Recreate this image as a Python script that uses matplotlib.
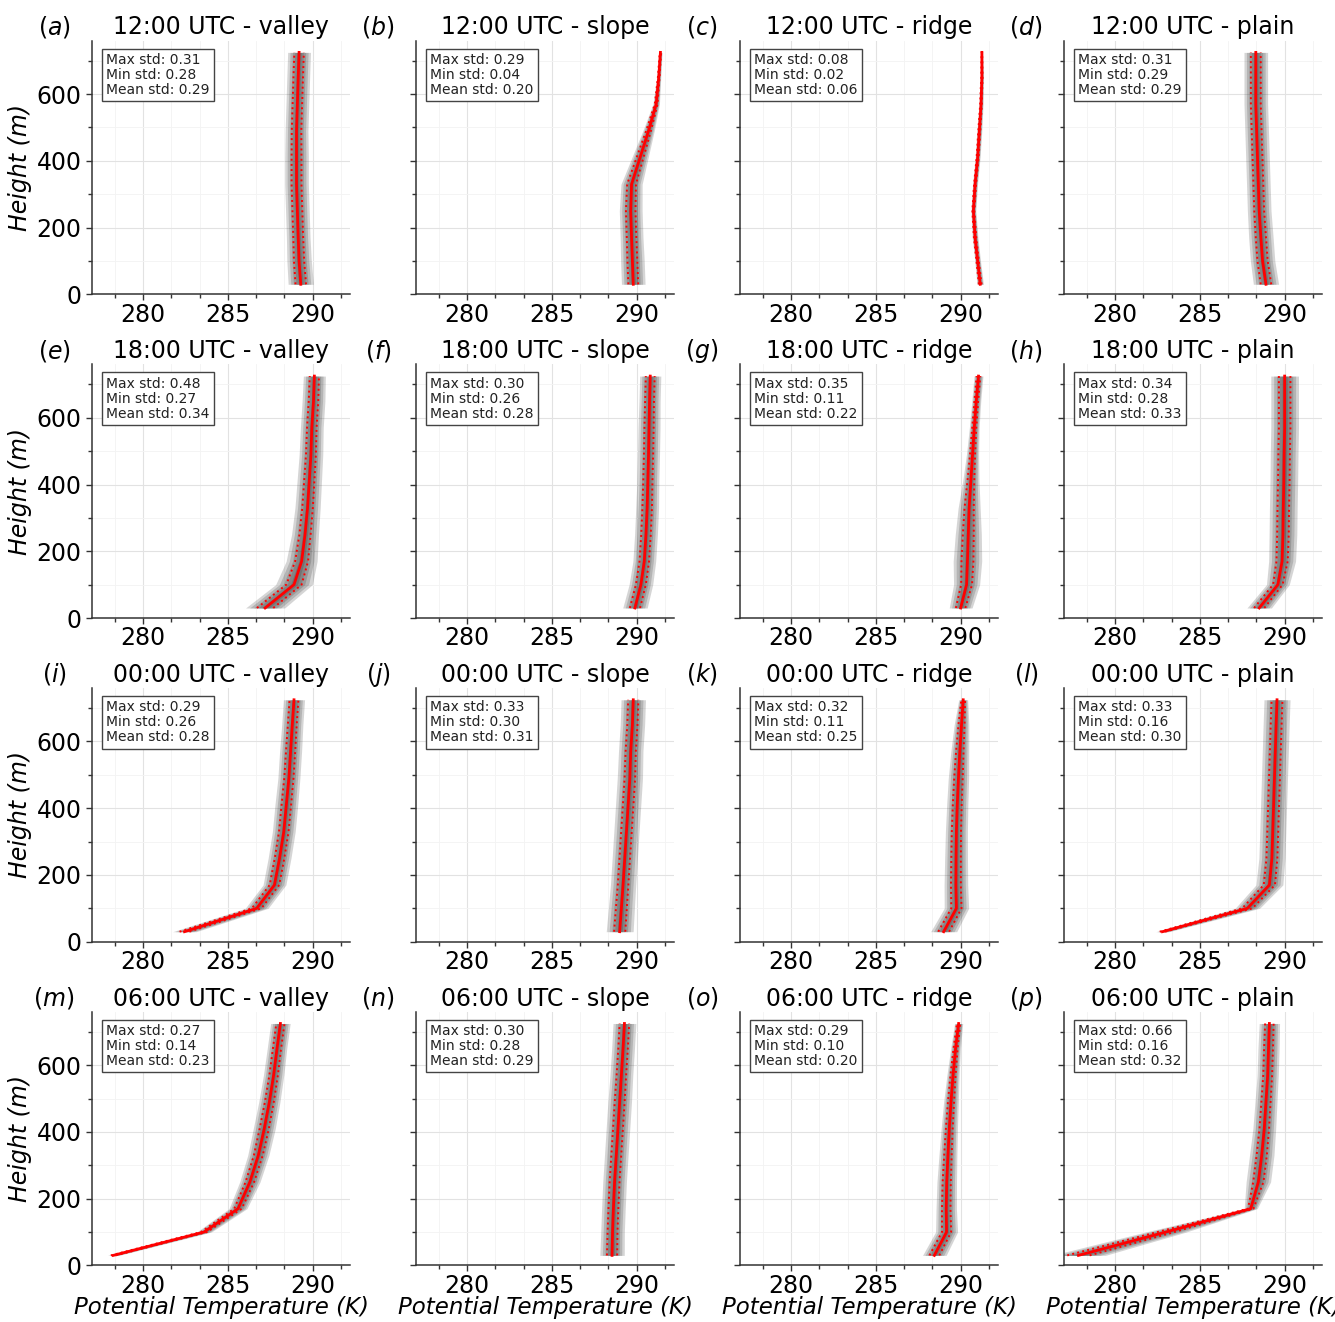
import matplotlib
matplotlib.use('Agg')
import matplotlib.pyplot as plt
from matplotlib.ticker import MultipleLocator
from matplotlib.transforms import offset_copy
import numpy as np

# ---------------- data ----------------
heights = [30, 100, 170, 250, 330, 410, 490, 570, 650, 725]
times = ['12:00 UTC', '18:00 UTC', '00:00 UTC', '06:00 UTC']
sites = ['valley', 'slope', 'ridge', 'plain']
letters = list('abcdefghijklmnop')

# ensemble-mean potential temperature (K) per site, one list per time
theta_12 = [
    [289.3, 289.2, 289.15, 289.1, 289.05, 289.05, 289.05, 289.1, 289.15, 289.2],
    [289.8, 289.75, 289.7, 289.65, 289.7, 290.2, 290.7, 291.15, 291.3, 291.4],
    [291.15, 291.0, 290.85, 290.75, 290.85, 291.0, 291.1, 291.2, 291.25, 291.25],
    [288.9, 288.7, 288.6, 288.5, 288.45, 288.4, 288.35, 288.3, 288.3, 288.3],
]
theta_18 = [
    [287.2, 288.9, 289.35, 289.55, 289.7, 289.8, 289.9, 289.95, 290.05, 290.1],
    [289.9, 290.25, 290.45, 290.55, 290.62, 290.66, 290.7, 290.73, 290.76, 290.8],
    [290.0, 290.35, 290.4, 290.45, 290.5, 290.6, 290.7, 290.8, 290.92, 291.05],
    [288.5, 289.6, 289.85, 289.9, 289.92, 289.95, 289.97, 290.0, 290.0, 290.0],
]
theta_00 = [
    [282.45, 286.7, 287.75, 288.05, 288.3, 288.45, 288.6, 288.7, 288.8, 288.9],
    [289.0, 289.1, 289.2, 289.3, 289.4, 289.5, 289.6, 289.65, 289.75, 289.8],
    [289.0, 289.75, 289.72, 289.73, 289.75, 289.8, 289.87, 289.95, 290.05, 290.15],
    [282.8, 287.8, 289.1, 289.25, 289.3, 289.35, 289.4, 289.45, 289.5, 289.55],
]
theta_06 = [
    [278.25, 283.6, 285.6, 286.3, 286.8, 287.15, 287.45, 287.7, 287.9, 288.1],
    [288.55, 288.58, 288.63, 288.7, 288.8, 288.9, 289.0, 289.1, 289.2, 289.28],
    [288.45, 289.17, 289.15, 289.18, 289.25, 289.33, 289.43, 289.55, 289.7, 289.88],
    [277.85, 283.0, 288.0, 288.45, 288.65, 288.8, 288.9, 289.0, 289.05, 289.1],
]

# ensemble standard deviation (K) per level
std_12 = [
    [0.31, 0.30, 0.29, 0.29, 0.29, 0.29, 0.28, 0.28, 0.28, 0.28],
    [0.29, 0.29, 0.28, 0.28, 0.26, 0.20, 0.14, 0.08, 0.05, 0.04],
    [0.08, 0.07, 0.07, 0.06, 0.06, 0.06, 0.06, 0.05, 0.04, 0.02],
    [0.31, 0.30, 0.30, 0.29, 0.29, 0.29, 0.29, 0.29, 0.29, 0.29],
]
std_18 = [
    [0.48, 0.45, 0.38, 0.33, 0.31, 0.30, 0.29, 0.28, 0.28, 0.27],
    [0.30, 0.29, 0.28, 0.28, 0.28, 0.27, 0.27, 0.27, 0.26, 0.26],
    [0.28, 0.32, 0.35, 0.32, 0.27, 0.20, 0.15, 0.12, 0.11, 0.11],
    [0.30, 0.28, 0.33, 0.34, 0.34, 0.34, 0.34, 0.34, 0.34, 0.34],
]
std_00 = [
    [0.29, 0.28, 0.28, 0.28, 0.28, 0.28, 0.27, 0.27, 0.26, 0.26],
    [0.33, 0.32, 0.31, 0.31, 0.31, 0.31, 0.31, 0.30, 0.30, 0.30],
    [0.32, 0.30, 0.29, 0.28, 0.27, 0.26, 0.25, 0.22, 0.18, 0.11],
    [0.16, 0.30, 0.33, 0.32, 0.32, 0.32, 0.32, 0.32, 0.32, 0.32],
]
std_06 = [
    [0.14, 0.18, 0.22, 0.25, 0.26, 0.27, 0.26, 0.25, 0.24, 0.24],
    [0.30, 0.29, 0.29, 0.29, 0.29, 0.29, 0.29, 0.28, 0.28, 0.28],
    [0.29, 0.27, 0.25, 0.24, 0.22, 0.20, 0.18, 0.15, 0.12, 0.10],
    [0.66, 0.50, 0.16, 0.30, 0.30, 0.28, 0.27, 0.26, 0.26, 0.25],
]

# statistics printed in the boxes
max_std = [[0.31, 0.29, 0.08, 0.31], [0.48, 0.30, 0.35, 0.34],
           [0.29, 0.33, 0.32, 0.33], [0.27, 0.30, 0.29, 0.66]]
min_std = [[0.28, 0.04, 0.02, 0.29], [0.27, 0.26, 0.11, 0.28],
           [0.26, 0.30, 0.11, 0.16], [0.14, 0.28, 0.10, 0.16]]
mean_std = [[0.29, 0.20, 0.06, 0.29], [0.34, 0.28, 0.22, 0.33],
            [0.28, 0.31, 0.25, 0.30], [0.23, 0.29, 0.20, 0.32]]

theta_all = [theta_12, theta_18, theta_00, theta_06]
std_all = [std_12, std_18, std_00, std_06]

# ---------------- figure ----------------
W, H = 1335, 1322
fig = plt.figure(figsize=(W / 100, H / 100), dpi=100)
plt.rcParams['font.family'] = ['DejaVu Sans']

ax_w, ax_h = 258, 253.6
band_mult = [2.4, 1.9, 1.4, 0.9, 0.45]
FS = 17

for r in range(4):
    for c in range(4):
        left = 92 + 324 * c
        bottom = 294.3 + 323.7 * r
        ax = fig.add_axes([left / W, 1 - bottom / H, ax_w / W, ax_h / H])
        z = np.array(heights)
        m = np.array(theta_all[r][c])
        s = np.array(std_all[r][c])

        for k in band_mult:
            ax.fill_betweenx(z, m - k * s, m + k * s, color='#303030',
                             alpha=0.2, lw=0, zorder=2)
        ax.plot(m - s, z, color='red', ls=':', lw=1.4, zorder=3)
        ax.plot(m + s, z, color='red', ls=':', lw=1.4, zorder=3)
        ax.plot(m, z, color='red', lw=2.0, zorder=4)

        ax.set_xlim(277, 292.2)
        ax.set_ylim(0, 760)
        ax.xaxis.set_major_locator(MultipleLocator(5))
        ax.xaxis.set_minor_locator(MultipleLocator(5 / 3))
        ax.yaxis.set_major_locator(MultipleLocator(200))
        ax.yaxis.set_minor_locator(MultipleLocator(100))
        ax.grid(which='major', color='#e2e2e2', lw=0.8, zorder=0)
        ax.grid(which='minor', color='#f3f3f3', lw=0.6, zorder=0)
        ax.set_axisbelow(True)
        for sp in ['top', 'right']:
            ax.spines[sp].set_visible(False)
        for sp in ['left', 'bottom']:
            ax.spines[sp].set_color('#333333')
            ax.spines[sp].set_linewidth(1.1)
        ax.tick_params(which='both', direction='out', color='#333333',
                       labelsize=FS, width=1.0)
        ax.tick_params(which='major', length=4)
        ax.tick_params(which='minor', length=3)
        ax.tick_params(axis='x', which='major', pad=2)
        if c != 0:
            ax.set_yticklabels([])
        else:
            ax.set_ylabel('Height (m)', fontsize=FS, style='italic',
                          labelpad=3)
        if r == 3:
            ax.set_xlabel('Potential Temperature (K)', fontsize=16.5,
                          style='italic', labelpad=-1)

        ax.set_title(f'{times[r]} - {sites[c]}', fontsize=FS, pad=4.5)
        tr = offset_copy(ax.transAxes, fig=fig, y=4.5, units='points')
        ax.text(-0.147, 1.0, f'(${letters[4 * r + c]}$)', transform=tr,
                ha='center', va='baseline', fontsize=FS)

        txt = (f'Max std: {max_std[r][c]:.2f}\n'
               f'Min std: {min_std[r][c]:.2f}\n'
               f'Mean std: {mean_std[r][c]:.2f}')
        ax.text(0.055, 0.952, txt, transform=ax.transAxes, ha='left',
                va='top', fontsize=10, linespacing=1.1, color='#222222',
                zorder=6,
                bbox=dict(boxstyle='square,pad=0.3', fc='white',
                          ec='#444444', lw=1.0))

fig.savefig('out.png', dpi=100)
